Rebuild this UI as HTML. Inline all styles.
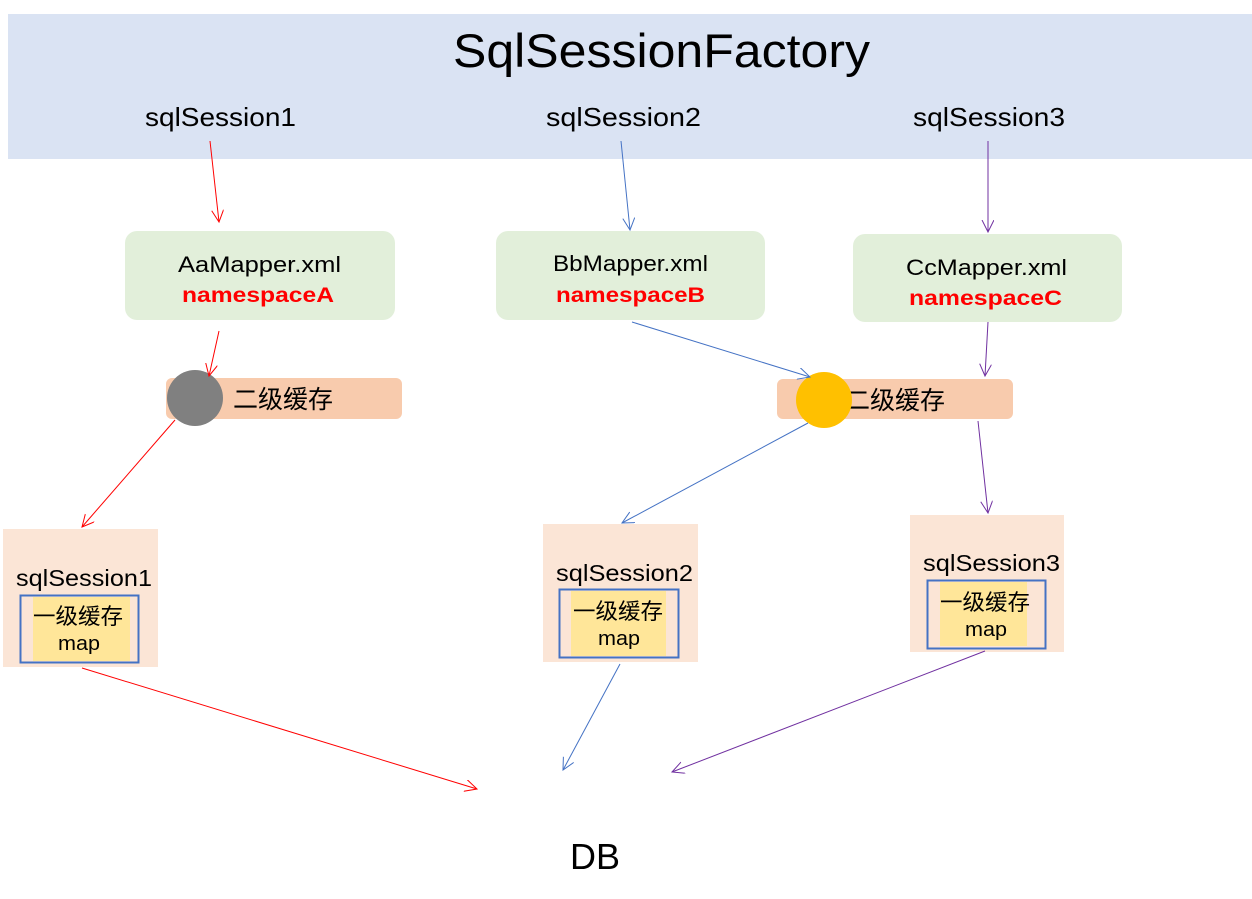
<!DOCTYPE html>
<html><head><meta charset="utf-8"><style>
html,body{margin:0;padding:0;background:#fff;width:1252px;height:899px;overflow:hidden}
svg{display:block}
text{font-family:"Liberation Sans","Noto Sans CJK SC",sans-serif}
</style></head><body>
<svg width="1252" height="899" xmlns="http://www.w3.org/2000/svg">
<defs>
<marker id="ar" markerWidth="16" markerHeight="16" refX="12" refY="6" orient="auto" markerUnits="userSpaceOnUse"><path d="M0,0 L12,6 L0,12" fill="none" stroke="#ff0000" stroke-width="1"/></marker>
<marker id="ab" markerWidth="16" markerHeight="16" refX="12" refY="6" orient="auto" markerUnits="userSpaceOnUse"><path d="M0,0 L12,6 L0,12" fill="none" stroke="#4472c4" stroke-width="1"/></marker>
<marker id="ap" markerWidth="16" markerHeight="16" refX="12" refY="6" orient="auto" markerUnits="userSpaceOnUse"><path d="M0,0 L12,6 L0,12" fill="none" stroke="#7030a0" stroke-width="1"/></marker>
</defs>
<rect x="8" y="14" width="1244" height="145" fill="#dae3f3"/>
<text x="453" y="67" font-size="47" textLength="417" lengthAdjust="spacingAndGlyphs">SqlSessionFactory</text>
<text x="145" y="126" font-size="26" textLength="151" lengthAdjust="spacingAndGlyphs">sqlSession1</text>
<text x="546" y="126" font-size="26" textLength="155" lengthAdjust="spacingAndGlyphs">sqlSession2</text>
<text x="913" y="126" font-size="26" textLength="152" lengthAdjust="spacingAndGlyphs">sqlSession3</text>

<rect x="125" y="231" width="270" height="89" rx="12" fill="#e2efda"/>
<rect x="496" y="231" width="269" height="89" rx="12" fill="#e2efda"/>
<rect x="853" y="234" width="269" height="88" rx="12" fill="#e2efda"/>
<text x="178" y="272" font-size="22" textLength="163" lengthAdjust="spacingAndGlyphs">AaMapper.xml</text>
<text x="182" y="302" font-size="21" font-weight="bold" fill="#ff0000" textLength="152" lengthAdjust="spacingAndGlyphs">namespaceA</text>
<text x="553" y="271" font-size="22" textLength="155" lengthAdjust="spacingAndGlyphs">BbMapper.xml</text>
<text x="556" y="302" font-size="21" font-weight="bold" fill="#ff0000" textLength="149" lengthAdjust="spacingAndGlyphs">namespaceB</text>
<text x="906" y="275" font-size="22" textLength="161" lengthAdjust="spacingAndGlyphs">CcMapper.xml</text>
<text x="909" y="305" font-size="21" font-weight="bold" fill="#ff0000" textLength="153" lengthAdjust="spacingAndGlyphs">namespaceC</text>

<rect x="166" y="378" width="236" height="41" rx="6" fill="#f8cbad"/>
<circle cx="195" cy="398" r="28" fill="#808080"/>
<text x="233" y="408" font-size="25" textLength="100" lengthAdjust="spacingAndGlyphs">二级缓存</text>
<rect x="777" y="379" width="236" height="40" rx="6" fill="#f8cbad"/>
<text x="845" y="409" font-size="25" textLength="100" lengthAdjust="spacingAndGlyphs">二级缓存</text>
<circle cx="824" cy="400" r="28" fill="#ffc000"/>

<rect x="3" y="529" width="155" height="138" fill="#fbe5d6"/>
<text x="16" y="586" font-size="23" textLength="136" lengthAdjust="spacingAndGlyphs">sqlSession1</text>
<rect x="33" y="597" width="97" height="64" fill="#ffe699"/>
<rect x="20.5" y="595.5" width="118" height="67" fill="none" stroke="#4472c4" stroke-width="2"/>
<text x="33" y="624" font-size="22" textLength="90" lengthAdjust="spacingAndGlyphs">一级缓存</text>
<text x="58" y="650" font-size="20" textLength="42" lengthAdjust="spacingAndGlyphs">map</text>

<rect x="543" y="524" width="155" height="138" fill="#fbe5d6"/>
<text x="556" y="581" font-size="23" textLength="137" lengthAdjust="spacingAndGlyphs">sqlSession2</text>
<rect x="571" y="591" width="95" height="65" fill="#ffe699"/>
<rect x="559.5" y="589.5" width="119" height="68" fill="none" stroke="#4472c4" stroke-width="2"/>
<text x="573" y="619" font-size="22" textLength="90" lengthAdjust="spacingAndGlyphs">一级缓存</text>
<text x="598" y="645" font-size="20" textLength="42" lengthAdjust="spacingAndGlyphs">map</text>

<rect x="910" y="515" width="154" height="137" fill="#fbe5d6"/>
<text x="923" y="571" font-size="23" textLength="137" lengthAdjust="spacingAndGlyphs">sqlSession3</text>
<rect x="940" y="582" width="87" height="64" fill="#ffe699"/>
<rect x="927.5" y="580.5" width="118" height="68" fill="none" stroke="#4472c4" stroke-width="2"/>
<text x="940" y="610" font-size="22" textLength="90" lengthAdjust="spacingAndGlyphs">一级缓存</text>
<text x="965" y="636" font-size="20" textLength="42" lengthAdjust="spacingAndGlyphs">map</text>

<g fill="none" stroke-width="1">
<line x1="210" y1="141" x2="219" y2="222" stroke="#ff0000" marker-end="url(#ar)"/>
<line x1="219" y1="331" x2="209" y2="376" stroke="#ff0000" marker-end="url(#ar)"/>
<line x1="175" y1="420" x2="82" y2="527" stroke="#ff0000" marker-end="url(#ar)"/>
<line x1="82" y1="668" x2="477" y2="789" stroke="#ff0000" marker-end="url(#ar)"/>
<line x1="621" y1="141" x2="630" y2="230" stroke="#4472c4" marker-end="url(#ab)"/>
<line x1="632" y1="322" x2="810" y2="377" stroke="#4472c4" marker-end="url(#ab)"/>
<line x1="808" y1="423" x2="622" y2="523" stroke="#4472c4" marker-end="url(#ab)"/>
<line x1="620" y1="664" x2="563" y2="770" stroke="#4472c4" marker-end="url(#ab)"/>
<line x1="988" y1="141" x2="988" y2="232" stroke="#7030a0" marker-end="url(#ap)"/>
<line x1="988" y1="322" x2="985" y2="376" stroke="#7030a0" marker-end="url(#ap)"/>
<line x1="978" y1="421" x2="988" y2="513" stroke="#7030a0" marker-end="url(#ap)"/>
<line x1="985" y1="651" x2="672" y2="772" stroke="#7030a0" marker-end="url(#ap)"/>
</g>
<text x="570" y="869" font-size="36" textLength="50" lengthAdjust="spacingAndGlyphs">DB</text>
</svg>
</body></html>
